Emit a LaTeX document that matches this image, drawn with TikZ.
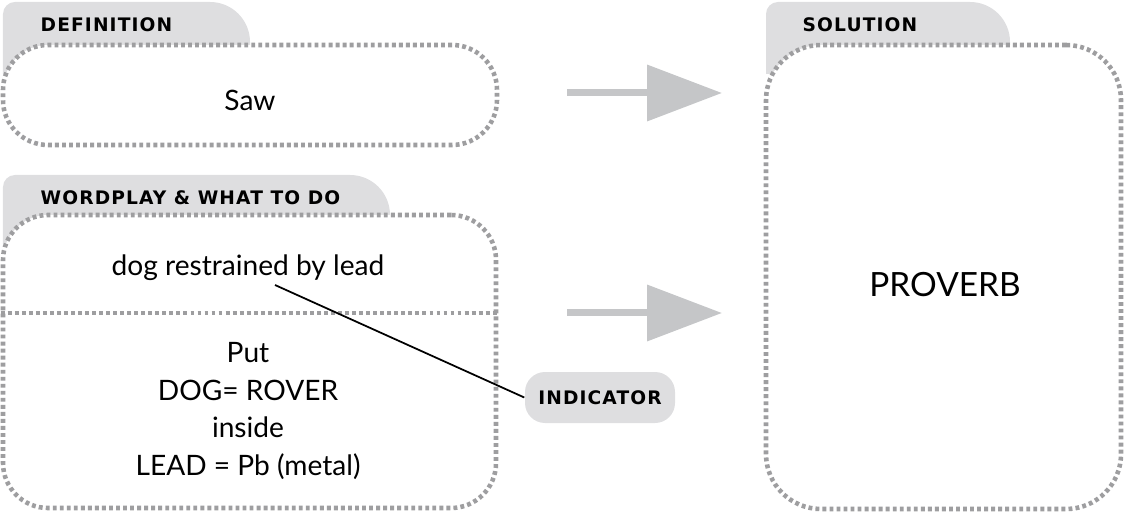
\documentclass[tikz,border=0pt]{standalone}
\usepackage{fontspec}
\setmainfont{Lato}
\newfontfamily\tabfont[LetterSpace=6]{DejaVu Sans}
\usetikzlibrary{arrows.meta,positioning,calc}
\definecolor{tabgray}{RGB}{222,222,224}
\definecolor{dotgray}{RGB}{158,158,160}
\definecolor{arrowgray}{RGB}{197,198,200}
\tikzset{
  dotbox/.style={rectangle, rounded corners=0.45cm, draw=dotgray, fill=white, line width=1.3pt, dash pattern=on 1.1pt off 0.9pt, inner sep=0pt},
  dotline/.style={draw=dotgray, line width=1.3pt, dash pattern=on 1.1pt off 0.9pt},
  tab/.style={fill=tabgray},
  tablabel/.style={anchor=west, inner sep=0pt, font=\tabfont\bfseries\fontsize{5.3}{6}\selectfont},
  cluetext/.style={inner sep=0pt, align=center, font=\fontsize{8}{10.8}\selectfont},
  bigarrow/.style={-{Triangle[length=0.75cm,width=0.55cm]}, line width=0.07cm, arrowgray},
  pill/.style={rectangle, rounded corners=0.2cm, fill=tabgray, minimum width=1.5cm, minimum height=0.51cm, inner sep=0pt, font=\tabfont\bfseries\fontsize{5.3}{6}\selectfont},
  link/.style={black, line width=0.5pt}
}
\begin{document}
\begin{tikzpicture}
  \useasboundingbox (0,0) rectangle (11.24,5.14);
  % tabs
  \fill[tab] (0.03,4.4) -- (0.03,5.0) arc[start angle=180,end angle=90,radius=0.12] -- (2.1,5.12) arc[start angle=90,end angle=0,radius=0.4] -- (2.5,4.4) -- cycle;
  \fill[tab] (0.03,2.7) -- (0.03,3.27) arc[start angle=180,end angle=90,radius=0.12] -- (3.5,3.39) arc[start angle=90,end angle=0,radius=0.4] -- (3.9,2.7) -- cycle;
  \fill[tab] (7.66,4.4) -- (7.66,5.0) arc[start angle=180,end angle=90,radius=0.12] -- (9.7,5.12) arc[start angle=90,end angle=0,radius=0.4] -- (10.1,4.4) -- cycle;
  % boxes
  \node[dotbox, minimum width=4.94cm, minimum height=1.0cm] (defbox) at (2.5,4.19) {};
  \node[dotbox, minimum width=4.93cm, minimum height=2.93cm] (wpbox) at (2.495,1.525) {};
  \node[dotbox, rounded corners=0.55cm, minimum width=3.55cm, minimum height=4.64cm] (solbox) at (9.435,2.37) {};
  \draw[dotline] (wpbox.west |- 0,2.01) -- (wpbox.east |- 0,2.01);
  % labels
  \node[tablabel] (deflabel) at (0.40,4.89) {DEFINITION};
  \node[tablabel] (wplabel) at (0.40,3.16) {WORDPLAY \& WHAT TO DO};
  \node[tablabel] (sollabel) at (8.02,4.89) {SOLUTION};
  % texts
  \node[cluetext] (saw) at (2.5,4.14) {Saw};
  \node[cluetext] (dog) at (2.48,2.46) {dog restrained by lead};
  \node[cluetext] (steps) at (2.48,1.03) {Put\\DOG= ROVER\\inside\\LEAD = Pb (metal)};
  \node[cluetext, font=\fontsize{9.5}{11}\selectfont] (answer) at (9.45,2.29) {PROVERB};
  % arrows
  \coordinate (a1) at (5.67,4.21);
  \coordinate (b1) at (7.22,4.21);
  \coordinate (a2) at (5.67,2.01);
  \coordinate (b2) at (7.22,2.01);
  \draw[bigarrow] (a1) -- (b1);
  \draw[bigarrow] (a2) -- (b2);
  % indicator
  \node[pill] (ind) at (6.0,1.165) {INDICATOR};
  \coordinate (tail) at (2.75,2.29);
  \draw[link] (tail) -- (ind.west);
\end{tikzpicture}
\end{document}
